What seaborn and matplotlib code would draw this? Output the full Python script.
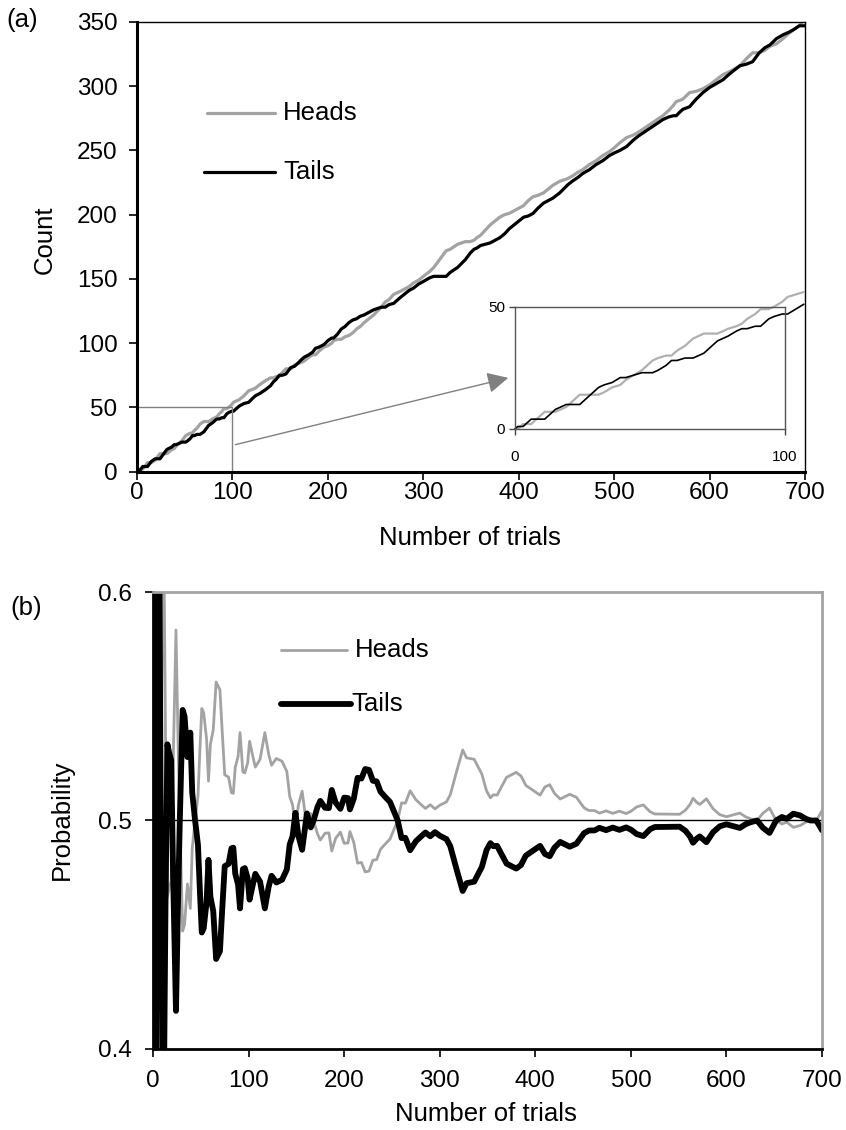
import matplotlib
matplotlib.use("Agg")
import matplotlib.pyplot as plt
import pandas as pd
import seaborn as sns

# Cumulative coin-toss record: number of tosses so far and tails seen so far
trials = [0, 1, 2, 3, 4, 5, 6, 8, 10, 11, 13, 15, 17, 19, 21, 24, 26, 28, 30, 31, 33,
          36, 39, 41, 44, 47, 49, 51, 53, 56, 58, 60, 63, 66, 68, 70, 72, 75, 79,
          82, 84, 86, 89, 91, 94, 96, 99, 101, 104, 107, 112, 117, 121, 124, 129,
          131, 135, 140, 143, 146, 149, 152, 156, 158, 161, 165, 168, 172, 175,
          180, 184, 187, 191, 196, 200, 204, 206, 210, 214, 218, 222, 226, 230,
          234, 238, 243, 248, 252, 256, 260, 264, 269, 275, 280, 285, 290, 295,
          300, 307, 311, 314, 318, 321, 324, 328, 332, 336, 340, 344, 349, 353,
          356, 360, 365, 370, 375, 380, 385, 390, 395, 400, 405, 410, 415, 420,
          426, 431, 436, 443, 447, 451, 456, 462, 467, 474, 481, 488, 495, 500,
          506, 513, 520, 525, 531, 541, 551, 557, 562, 565, 569, 572, 579, 586,
          593, 600, 607, 614, 620, 625, 632, 638, 645, 652, 658, 663, 670, 677,
          683, 688, 694, 697, 700]
tails = [0, 1, 1, 1, 2, 3, 4, 4, 4, 4, 6, 8, 9, 10, 10, 10, 12, 14, 16, 17, 18,
         19, 21, 21, 22, 23, 23, 23, 24, 26, 28, 28, 29, 29, 30, 31, 33, 36, 38,
         40, 41, 41, 42, 42, 45, 46, 47, 47, 49, 51, 53, 54, 57, 59, 61,
         62, 64, 67, 70, 72, 75, 75, 76, 78, 81, 82, 84, 87, 89,
         91, 93, 96, 97, 99, 102, 104, 104, 107, 111, 113, 116, 118, 119,
         121, 122, 124, 126, 127, 128, 128, 130, 131, 135, 138, 141, 143, 146,
         148, 151, 152, 152, 152, 152, 152, 155, 157, 159, 162, 165, 170, 173,
         174, 176, 177, 178, 180, 182, 185, 189, 192, 195, 198, 199, 201, 205,
         209, 211, 213, 217, 220, 223, 226, 229, 232, 235, 239, 242, 246, 248,
         250, 253, 258, 261, 264, 269, 274, 276, 277, 277, 280, 282, 284, 290,
         295, 299, 302, 305, 309, 312, 316, 317, 319, 326, 330, 332, 337, 340,
         342, 344, 347, 347, 347]

count_ticks = [0, 50, 100, 150, 200, 250, 300, 350]
trial_ticks = [0, 100, 200, 300, 400, 500, 600, 700]
prob_ticks = [0.4, 0.5, 0.6]
zoom_trials = 100
zoom_count = 50

df = pd.DataFrame({"trial": trials, "Tails": tails})
df["Heads"] = df["trial"] - df["Tails"]
prob = df[df["trial"] > 0].copy()
prob["Heads"] = prob["Heads"] / prob["trial"]
prob["Tails"] = prob["Tails"] / prob["trial"]
early = df[df["trial"] <= 107]

sns.set_theme(style="ticks")
plt.rcParams["font.family"] = ["Liberation Sans", "DejaVu Sans"]
plt.rcParams["text.color"] = "black"
plt.rcParams["axes.labelcolor"] = "black"
plt.rcParams["xtick.color"] = "black"
plt.rcParams["ytick.color"] = "black"
plt.rcParams["xtick.labelcolor"] = "black"
plt.rcParams["ytick.labelcolor"] = "black"

GRAY = "#a3a3a3"
FRAME_GRAY = "#808080"
TICK_FS = 17.5
LABEL_FS = 18.5

fig = plt.figure(figsize=(8.46, 11.3), dpi=100)
ax_a = fig.add_axes([0.162, 0.5826, 0.7896, 0.398])
ax_b = fig.add_axes([0.1809, 0.0717, 0.7908, 0.4044])
ax_in = fig.add_axes([0.6087, 0.6204, 0.3191, 0.1082])

# ---- (a) cumulative counts ----
sns.lineplot(data=df, x="trial", y="Heads", color=GRAY, lw=2.3, ax=ax_a,
             estimator=None, sort=False)
sns.lineplot(data=df, x="trial", y="Tails", color="black", lw=2.3, ax=ax_a,
             estimator=None, sort=False)
ax_a.plot([0, zoom_trials, zoom_trials], [zoom_count, zoom_count, 0],
          color=FRAME_GRAY, lw=1)
ax_a.annotate("", xy=(389, 73), xytext=(103, 21),
              arrowprops=dict(arrowstyle="-|>", color=FRAME_GRAY, lw=1,
                              mutation_scale=32, shrinkA=0, shrinkB=0))
ax_a.set_xlim(0, 700)
ax_a.set_ylim(0, 350)
ax_a.set_xticks(trial_ticks)
ax_a.set_yticks(count_ticks)
ax_a.set_xlabel("")
ax_a.set_ylabel("")
ax_a.tick_params(axis="both", direction="out", length=6, width=1.2,
                 labelsize=TICK_FS, color="black", labelcolor="black")
ax_a.tick_params(axis="x", pad=1.5)
ax_a.tick_params(axis="y", pad=8)
for side in ["left", "bottom"]:
    ax_a.spines[side].set_linewidth(2.2)
    ax_a.spines[side].set_color("black")
for side in ["top", "right"]:
    ax_a.spines[side].set_visible(True)
    ax_a.spines[side].set_linewidth(1)
    ax_a.spines[side].set_color("black")

# legend for (a)
ax_a.plot([0.105, 0.207], [0.798, 0.798], transform=ax_a.transAxes,
          color=GRAY, lw=2.3)
ax_a.plot([0.100, 0.207], [0.666, 0.666], transform=ax_a.transAxes,
          color="black", lw=2.3)
ax_a.text(0.219, 0.798, "Heads", transform=ax_a.transAxes, fontsize=LABEL_FS,
          va="center", ha="left")
ax_a.text(0.219, 0.666, "Tails", transform=ax_a.transAxes, fontsize=LABEL_FS,
          va="center", ha="left")

# ---- inset: first hundred tosses ----
sns.lineplot(data=early, x="trial", y="Heads", color="#b0b0b0", lw=1.6,
             ax=ax_in, estimator=None, sort=False, clip_on=False)
sns.lineplot(data=early, x="trial", y="Tails", color="black", lw=1.2,
             ax=ax_in, estimator=None, sort=False, clip_on=False)
ax_in.set_xlim(0, zoom_trials)
ax_in.set_ylim(0, zoom_count)
ax_in.set_xticks([0, zoom_trials])
ax_in.set_yticks([0, zoom_count])
ax_in.set_xlabel("")
ax_in.set_ylabel("")
ax_in.set_facecolor("none")
ax_in.tick_params(axis="both", direction="out", length=4, width=1,
                  labelsize=11, color="#444444", labelcolor="black")
ax_in.tick_params(axis="x", pad=11)
ax_in.tick_params(axis="y", pad=3)
for side in ["left", "bottom", "top", "right"]:
    ax_in.spines[side].set_visible(True)
    ax_in.spines[side].set_linewidth(1)
    ax_in.spines[side].set_color("#555555")

# ---- (b) running proportions ----
ax_b.axhline(0.5, color="black", lw=1, zorder=1)
sns.lineplot(data=prob, x="trial", y="Heads", color=GRAY, lw=2.0, ax=ax_b,
             estimator=None, sort=False)
sns.lineplot(data=prob, x="trial", y="Tails", color="black", lw=4.2, ax=ax_b,
             estimator=None, sort=False)
ax_b.set_xlim(0, 700)
ax_b.set_ylim(0.4, 0.6)
ax_b.set_xticks(trial_ticks)
ax_b.set_yticks(prob_ticks)
ax_b.set_yticklabels([f"{v:.1f}" for v in prob_ticks])
ax_b.set_xlabel("")
ax_b.set_ylabel("")
ax_b.tick_params(axis="both", direction="out", length=6, width=1.2,
                 labelsize=TICK_FS, color="black", labelcolor="black")
ax_b.tick_params(axis="x", pad=9)
ax_b.tick_params(axis="y", pad=9)
for side in ["left", "bottom"]:
    ax_b.spines[side].set_linewidth(2)
    ax_b.spines[side].set_color("black")
for side in ["top", "right"]:
    ax_b.spines[side].set_visible(True)
    ax_b.spines[side].set_linewidth(2)
    ax_b.spines[side].set_color(GRAY)

ax_b.plot([0.192, 0.290], [0.872, 0.872], transform=ax_b.transAxes,
          color=GRAY, lw=2.0)
ax_b.plot([0.191, 0.296], [0.755, 0.755], transform=ax_b.transAxes,
          color="black", lw=4.2, solid_capstyle="round")
ax_b.text(0.301, 0.872, "Heads", transform=ax_b.transAxes, fontsize=LABEL_FS,
          va="center", ha="left")
ax_b.text(0.297, 0.755, "Tails", transform=ax_b.transAxes, fontsize=LABEL_FS,
          va="center", ha="left")

# axis titles and panel tags
fig.text(45 / 846, 1 - 240 / 1130, "Count", rotation=90, fontsize=LABEL_FS,
         ha="center", va="center")
fig.text(470 / 846, 1 - 538 / 1130, "Number of trials", fontsize=LABEL_FS,
         ha="center", va="center")
fig.text(62 / 846, 1 - 820 / 1130, "Probability", rotation=90,
         fontsize=LABEL_FS, ha="center", va="center")
fig.text(486 / 846, 1 - 1114 / 1130, "Number of trials", fontsize=LABEL_FS,
         ha="center", va="center")
fig.text(6 / 846, 1 - 20 / 1130, "(a)", fontsize=LABEL_FS, ha="left",
         va="center")
fig.text(10 / 846, 1 - 608 / 1130, "(b)", fontsize=LABEL_FS, ha="left",
         va="center")

fig.savefig("out.png", dpi=100, facecolor="white")
